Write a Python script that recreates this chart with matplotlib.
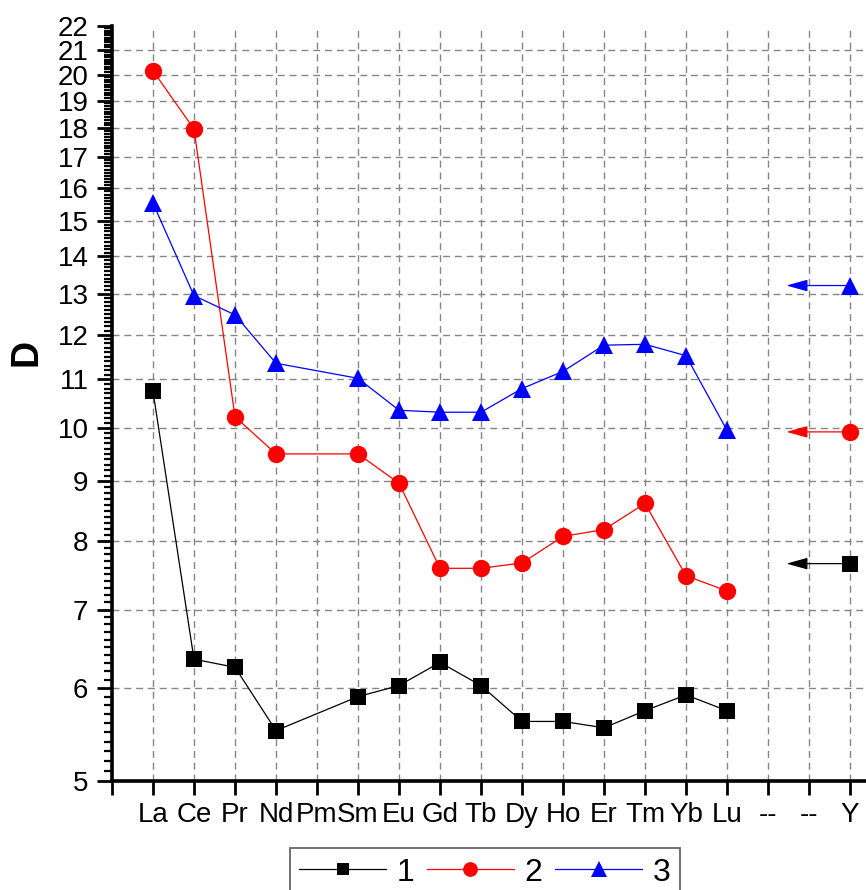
import numpy as np
import matplotlib
matplotlib.use("Agg")
import matplotlib.pyplot as plt
from matplotlib.ticker import FixedLocator, NullFormatter

plt.rcParams['font.family'] = ['Liberation Sans', 'DejaVu Sans']

# Category axis: rare-earth elements, two empty slots, then Y
tick_labels = ['', 'La', 'Ce', 'Pr', 'Nd', 'Pm', 'Sm', 'Eu', 'Gd', 'Tb', 'Dy',
               'Ho', 'Er', 'Tm', 'Yb', 'Lu', '--', '--', 'Y']
ree_elements = ['La', 'Ce', 'Pr', 'Nd', 'Sm', 'Eu', 'Gd', 'Tb', 'Dy',
                'Ho', 'Er', 'Tm', 'Yb', 'Lu']

# Distribution coefficients D for each series (Pm not measured)
series1 = [10.74, 6.35, 6.25, 5.52, 5.90, 6.03, 6.31, 6.03, 5.62, 5.62, 5.55, 5.74, 5.92, 5.74]
series2 = [20.15, 17.97, 10.22, 9.50, 9.50, 8.97, 7.59, 7.59, 7.67, 8.08, 8.19, 8.62, 7.48, 7.26]
series3 = [15.54, 12.96, 12.48, 11.35, 11.02, 10.35, 10.31, 10.31, 10.80, 11.17, 11.76, 11.78, 11.52, 9.95]

# Values for yttrium
y_values = [7.66, 9.92, 13.22]

series_names = ['1', '2', '3']
colors = ['black', '#ff0000', '#0000ff']
markers = ['s', 'o', '^']
marker_sizes = [11, 12.5, 13.5]

x_pos = {lab: i for i, lab in enumerate(tick_labels) if lab not in ('', '--')}
x_ree = [x_pos[e] for e in ree_elements]
x_y = x_pos['Y']

fig = plt.figure(figsize=(8.66, 8.90), dpi=100)
ax = fig.add_axes([112 / 866, 109 / 890, (866 - 112) / 866, (781 - 26) / 890])

handles = []
for vals, yv, name, c, m, ms in zip([series1, series2, series3], y_values,
                                    series_names, colors, markers, marker_sizes):
    h, = ax.plot(x_ree, vals, color=c, marker=m, markersize=ms, lw=0.9,
                 markeredgewidth=0, label=name, zorder=4)
    handles.append(h)
    ax.plot([x_y], [yv], color=c, marker=m, markersize=ms, markeredgewidth=0,
            linestyle='none', zorder=4, clip_on=False)
    ax.annotate('', xy=(16.45, yv), xytext=(x_y, yv),
                arrowprops=dict(arrowstyle='-|>,head_length=0.65,head_width=0.18',
                                color=c, lw=0.9, mutation_scale=20,
                                shrinkA=0, shrinkB=0), zorder=3)

ax.set_yscale('log')
ax.set_ylim(5, 22)
ax.set_xlim(0, (866 - 112) / 41)

major_y = list(range(5, 23))
ax.yaxis.set_major_locator(FixedLocator(major_y))
ax.set_yticklabels([str(v) for v in major_y])
minor_y = [round(v, 1) for v in np.arange(5.1, 22.0, 0.1) if abs(v - round(v)) > 1e-6]
ax.yaxis.set_minor_locator(FixedLocator(minor_y))
ax.yaxis.set_minor_formatter(NullFormatter())

ax.set_xticks(range(len(tick_labels)))
ax.set_xticklabels(tick_labels)

for side in ('top', 'right'):
    ax.spines[side].set_visible(False)
for side in ('left', 'bottom'):
    ax.spines[side].set_linewidth(2.6)

ax.tick_params(axis='y', which='major', direction='out', length=11, width=2,
               labelsize=20, pad=6)
ax.tick_params(axis='y', which='minor', direction='out', length=6, width=1.6)
ax.tick_params(axis='x', which='major', direction='out', length=10, width=2,
               labelsize=20, pad=5)

ax.grid(True, which='major', linestyle=(0, (5, 3.5)), color='#858585', lw=1.0, zorder=1)
ax.set_axisbelow(True)
ax.get_ygridlines()[-1].set_visible(False)
ax.get_xgridlines()[0].set_visible(False)

ax.set_ylabel('D', fontsize=27, fontweight='bold')
ax.yaxis.set_label_coords((44 - 112) / 754, (781 - 352) / 755)

leg = fig.legend(handles=handles, labels=series_names, loc='upper center',
                 bbox_to_anchor=(485 / 866, 42 / 890), bbox_transform=fig.transFigure,
                 borderaxespad=0, ncol=3, fontsize=23, frameon=True, fancybox=False,
                 handlelength=2.7, handletextpad=0.35, columnspacing=0.4,
                 borderpad=0.3, markerscale=0.85)
leg.get_frame().set_edgecolor('#404040')
leg.get_frame().set_linewidth(1.3)

fig.savefig('out.png', dpi=100, facecolor='white')
